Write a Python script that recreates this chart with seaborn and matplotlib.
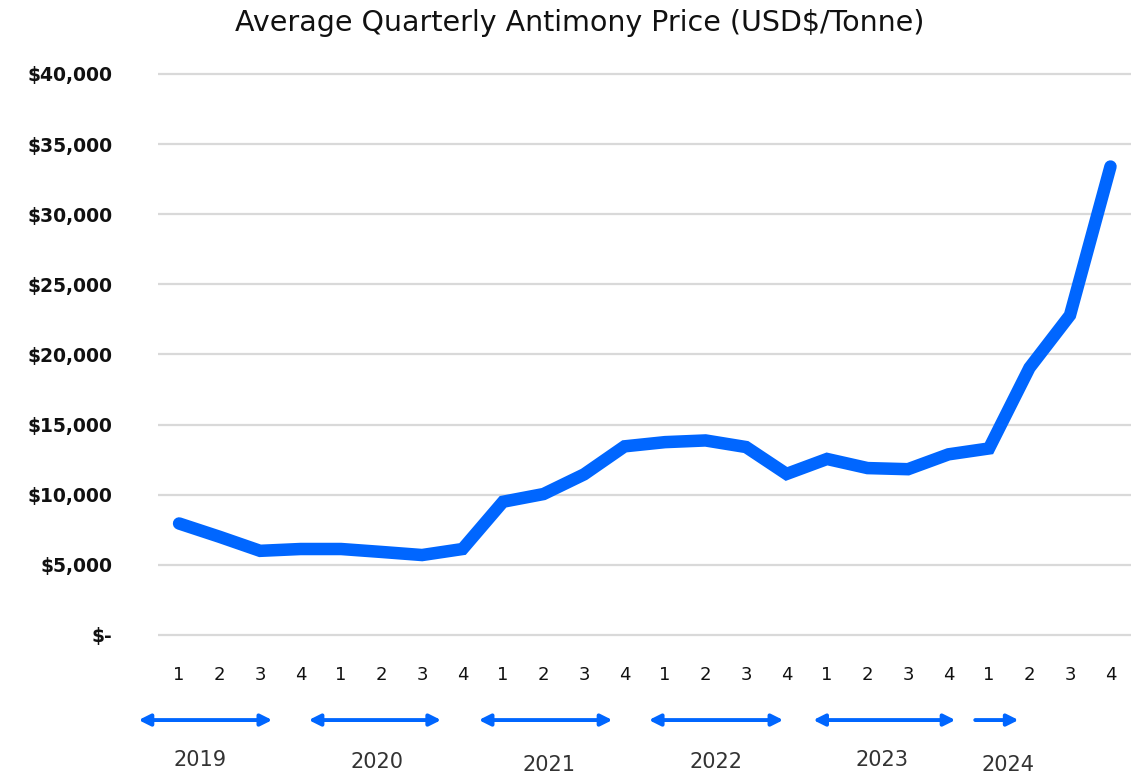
import pandas as pd
import seaborn as sns
import matplotlib.pyplot as plt

# Quarterly prices (USD/tonne), 2019 Q1 .. 2024 Q4
years = ['2019', '2020', '2021', '2022', '2023', '2024']
quarters = ['1', '2', '3', '4'] * len(years)
prices = [7950, 7000, 6000, 6130,
          6130, 5920, 5700, 6130,
          9500, 10050, 11450, 13450,
          13750, 13870, 13400, 11480,
          12550, 11900, 11820, 12880,
          13300, 19050, 22800, 33400]
y_ticks = [0, 5000, 10000, 15000, 20000, 25000, 30000, 35000, 40000]
y_labels = ['$-', '$5,000', '$10,000', '$15,000', '$20,000',
            '$25,000', '$30,000', '$35,000', '$40,000']

df = pd.DataFrame({'idx': range(len(prices)), 'price': prices})

sns.set_style('white')
plt.rcParams['font.family'] = ['DejaVu Sans']

fig = plt.figure(figsize=(11.41, 7.76), dpi=100)
ax = fig.add_axes([0.1385, 0.1763, 0.8525, 0.7338])

ax.set_yticks(y_ticks)
ax.grid(axis='y', color='#d9d9d9', linewidth=1.6)
ax.set_axisbelow(True)

sns.lineplot(data=df, x='idx', y='price', ax=ax, color='#0066ff',
             linewidth=9, solid_capstyle='round', solid_joinstyle='miter',
             clip_on=False)

ax.set_xlim(-0.52, 23.5)
ax.set_ylim(-300, 40300)
ax.set_xticks(df['idx'])
ax.set_xticklabels(quarters, fontsize=13, color='#111111')
ax.set_yticklabels(y_labels, fontsize=13.5, fontweight='bold', color='#111111')
ax.tick_params(axis='x', length=0, pad=19)
ax.tick_params(axis='y', length=0, pad=33)
ax.set_xlabel('')
ax.set_ylabel('')
for s in ax.spines.values():
    s.set_visible(False)

fig.text(0.508, 0.971, 'Average Quarterly Antimony Price (USD$/Tonne)',
         fontsize=20.5, color='#111111', ha='center', va='center')

# year arrows below the quarter ticks (index-space spans)
arrow_y = -0.142
arrow_spans = [(-1.0, 2.3), (3.2, 6.47), (7.4, 10.7),
               (11.6, 14.92), (15.66, 19.17)]
for x0, x1 in arrow_spans:
    ax.annotate('', xy=(x1, arrow_y), xytext=(x0, arrow_y),
                xycoords=('data', 'axes fraction'),
                textcoords=('data', 'axes fraction'),
                arrowprops=dict(arrowstyle='<|-|>', color='#0066ff', lw=2.8,
                                mutation_scale=17, shrinkA=0, shrinkB=0),
                annotation_clip=False)
ax.annotate('', xy=(20.73, arrow_y), xytext=(19.66, arrow_y),
            xycoords=('data', 'axes fraction'),
            textcoords=('data', 'axes fraction'),
            arrowprops=dict(arrowstyle='-|>', color='#0066ff', lw=2.8,
                            mutation_scale=17, shrinkA=0, shrinkB=0),
            annotation_clip=False)

year_x = [0.52, 4.89, 9.14, 13.27, 17.37, 20.48]
year_y = [-0.212, -0.2155, -0.221, -0.2155, -0.212, -0.221]
for yr, xx, yy in zip(years, year_x, year_y):
    ax.text(xx, yy, yr, transform=ax.get_xaxis_transform(), ha='center',
            va='center', fontsize=15, color='#333333')

fig.savefig('out.png', dpi=100)
